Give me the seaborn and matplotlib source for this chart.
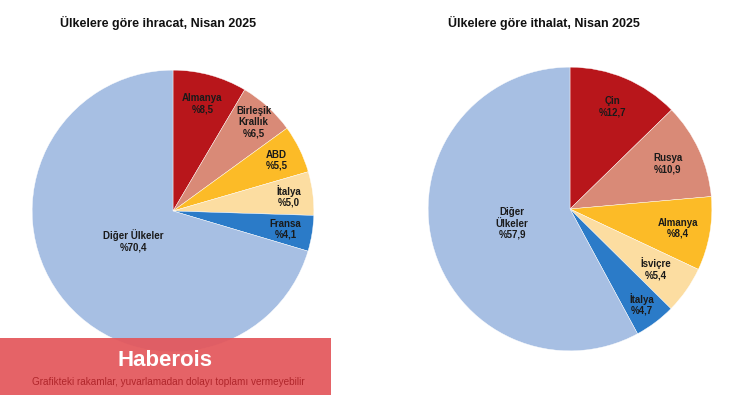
import matplotlib
matplotlib.use("Agg")
import matplotlib.pyplot as plt
import seaborn as sns
import numpy as np
from matplotlib.patches import Rectangle

# Data
exp_labels = ["Almanya", "Birleşik\nKrallık", "ABD", "İtalya", "Fransa", "Diğer Ülkeler"]
exp_values = [8.5, 6.5, 5.5, 5.0, 4.1, 70.4]
exp_texts = ["%8,5", "%6,5", "%5,5", "%5,0", "%4,1", "%70,4"]

imp_labels = ["Çin", "Rusya", "Almanya", "İsviçre", "İtalya", "Diğer\nÜlkeler"]
imp_values = [12.7, 10.9, 8.4, 5.4, 4.7, 57.9]
imp_texts = ["%12,7", "%10,9", "%8,4", "%5,4", "%4,7", "%57,9"]

titles = ["Ülkelere göre ihracat, Nisan 2025", "Ülkelere göre ithalat, Nisan 2025"]

sns.set_theme(style="white")
plt.rcParams['font.family'] = ['Liberation Sans', 'DejaVu Sans']

colors = ["#B8161B", "#D98A77", "#FCBB27", "#FCDDA1", "#2B7BC8", "#A7BFE3"]

W, H = 750, 397
fig = plt.figure(figsize=(7.5, 3.97), dpi=100)
fig.patch.set_facecolor("white")

def draw(cx, cy, r, values, labels, texts, dists, title, title_x):
    ax = fig.add_axes([(cx - r) / W, 1 - (cy + r) / H, 2 * r / W, 2 * r / H])
    wedges, _ = ax.pie(values, colors=colors, startangle=90, counterclock=False,
                       wedgeprops=dict(linewidth=0.3, edgecolor="white"), radius=1)
    ax.set_xlim(-1.001, 1.001)
    ax.set_ylim(-1.001, 1.001)
    ax.axis("off")
    for w, lab, t, d in zip(wedges, labels, texts, dists):
        ang = np.deg2rad((w.theta1 + w.theta2) / 2)
        ax.text(d * np.cos(ang), d * np.sin(ang), f"{lab}\n{t}", ha="center", va="center",
                fontsize=7, fontweight="bold", color="#1a1a1a", linespacing=1.15)
    fig.text(title_x / W, 1 - 23 / H, title, ha="center", va="center",
             fontsize=9, fontweight="bold", color="#111111")

draw(173, 211, 141, exp_values, exp_labels, exp_texts,
     [0.79, 0.85, 0.82, 0.83, 0.81, 0.35], titles[0], 158)
draw(570, 209, 142, imp_values, imp_labels, imp_texts,
     [0.78, 0.76, 0.77, 0.74, 0.84, 0.42], titles[1], 544)

# Banner
fig.patches.append(Rectangle((0, 2 / H), 331 / W, 57 / H, transform=fig.transFigure,
                             facecolor="#E4575B", alpha=0.93, edgecolor="none", zorder=5))
fig.text(165 / W, 1 - 360 / H, "Haberois", ha="center", va="center", fontsize=16,
         fontweight="bold", color="white", zorder=6)
fig.text(168 / W, 1 - 382 / H, "Grafikteki rakamlar, yuvarlamadan dolayı toplamı vermeyebilir",
         ha="center", va="center", fontsize=7.2, color="#B0262B", zorder=6)

fig.savefig("out.png", dpi=100)
